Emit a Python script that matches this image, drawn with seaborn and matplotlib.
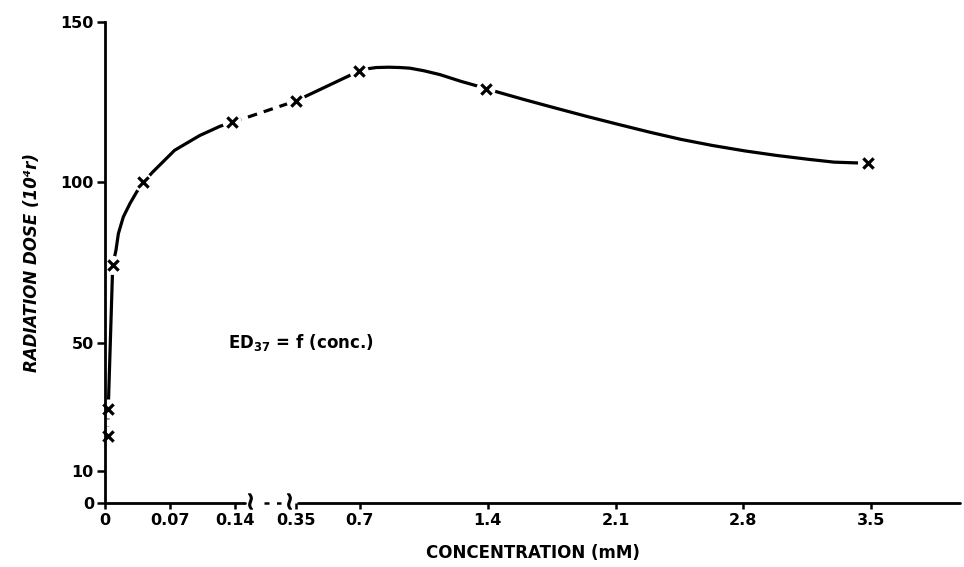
import numpy as np                 # For the broken-axis scale mapping
import pandas as pd                # For holding the traced curve pieces
import matplotlib
matplotlib.use("Agg")
import matplotlib.pyplot as plt    # For figure / axes handling
import seaborn as sns              # For the actual line and marker drawing

# Values (ED37 as a function of concentration)
conc_points = [0.003, 0.0035, 0.0083, 0.041, 0.137, 0.35, 0.695, 1.39, 3.48]
dose_points = [20.9, 29.3, 74.1, 100.0, 118.7, 125.4, 134.7, 129.0, 105.9]

# Hand-drawn curve pieces
low_dash_conc = [0.003, 0.0035]
low_dash_dose = [20.9, 29.3]

rise_conc = [0.0035, 0.0083]
rise_dose = [29.3, 74.1]

bend_conc = [0.0083, 0.0118, 0.0144, 0.0197, 0.0269, 0.0341, 0.0413,
             0.051, 0.075, 0.102, 0.124, 0.137]
bend_dose = [74.1, 78.8, 84.0, 89.2, 93.4, 97.0, 100.0,
             103.1, 110.0, 114.6, 117.5, 118.7]

gap_dash_conc = [0.137, 0.35]
gap_dash_dose = [118.7, 125.4]

mid_conc = [0.35, 0.695]
mid_dose = [125.4, 134.7]

tail_conc = [0.695, 0.727, 0.79, 0.859, 0.92, 0.974, 1.05, 1.138, 1.253,
             1.346, 1.39, 1.439, 1.60, 1.762, 1.94, 2.113, 2.29, 2.458,
             2.63, 2.808, 2.98, 3.153, 3.296, 3.449, 3.48]
tail_dose = [134.7, 135.3, 135.8, 135.9, 135.8, 135.6, 134.8, 133.6, 131.5,
             130.0, 129.0, 128.4, 125.8, 123.3, 120.6, 118.1, 115.6, 113.4,
             111.5, 109.8, 108.4, 107.2, 106.3, 106.0, 105.9]

# Axis ticks and labels
x_ticks = [0, 0.07, 0.14, 0.35, 0.7, 1.4, 2.1, 2.8, 3.5]
x_tick_labels = ["0", "0.07", "0.14", "0.35", "0.7", "1.4", "2.1", "2.8", "3.5"]
y_ticks = [0, 10, 50, 100, 150]
y_tick_labels = ["0", "10", "50", "100", "150"]

# Broken x scale: 0-0.14 is stretched, then a gap, then 0.35 onwards
SCALE_BREAKS = np.array([-1.0, 0.0, 0.14, 0.35, 10.0])
SCALE_UNITS = np.array([-928.6, 0.0, 130.0, 191.0, 191.0 + 9.65 * 182.6])


def forward(x):
    """Concentration -> drawing units along the broken axis"""
    return np.interp(x, SCALE_BREAKS, SCALE_UNITS)


def inverse(u):
    """Drawing units -> concentration"""
    return np.interp(u, SCALE_UNITS, SCALE_BREAKS)


def draw_piece(ax, conc, dose, dashed=False):
    """Draw one traced piece of the curve"""
    piece = pd.DataFrame({"conc": conc, "dose": dose})
    sns.lineplot(data=piece, x="conc", y="dose", ax=ax, sort=False,
                 estimator=None, color="black", linewidth=2.3,
                 linestyle=(0, (3.0, 2.2)) if dashed else "-", zorder=2)


def main():
    sns.set_style("ticks")
    plt.rcParams["font.family"] = ["DejaVu Sans"]
    # plain black text like the original print
    plt.rcParams["text.color"] = "black"
    plt.rcParams["axes.labelcolor"] = "black"
    plt.rcParams["xtick.color"] = "black"
    plt.rcParams["ytick.color"] = "black"
    plt.rcParams["axes.edgecolor"] = "black"

    fig = plt.figure(figsize=(9.64, 5.67), dpi=100)
    ax = fig.add_axes([105 / 964, 64 / 567, 855 / 964, 481 / 567])
    ax.set_xscale("function", functions=(forward, inverse))

    # curve pieces
    draw_piece(ax, low_dash_conc, low_dash_dose, dashed=True)
    draw_piece(ax, rise_conc, rise_dose)
    draw_piece(ax, bend_conc, bend_dose)
    draw_piece(ax, gap_dash_conc, gap_dash_dose, dashed=True)
    draw_piece(ax, mid_conc, mid_dose)
    draw_piece(ax, tail_conc, tail_dose)

    # white patch under each cross so the line stops short of it
    sns.scatterplot(x=conc_points, y=dose_points, ax=ax, marker="o", s=190,
                    color="white", edgecolor="none", zorder=2.2, clip_on=False)
    sns.scatterplot(x=conc_points, y=dose_points, ax=ax, marker="x", s=55,
                    color="black", linewidth=2.3, zorder=3, clip_on=False)

    ax.set_xlim(0, inverse(855.0))
    ax.set_ylim(0, 150)

    ax.set_xticks(x_ticks)
    ax.set_xticklabels(x_tick_labels)
    ax.set_yticks(y_ticks)
    ax.set_yticklabels(y_tick_labels)
    ax.minorticks_off()

    for lab in ax.get_xticklabels() + ax.get_yticklabels():
        lab.set_fontweight("bold")
        lab.set_fontsize(11.5)
    ax.tick_params(axis="x", direction="out", length=4, width=1.8, pad=3)
    ax.tick_params(axis="y", direction="out", length=6, width=1.8, pad=2)

    # spines: left kept, bottom redrawn with a break
    ax.spines["top"].set_visible(False)
    ax.spines["right"].set_visible(False)
    ax.spines["bottom"].set_visible(False)
    ax.spines["left"].set_linewidth(2.0)
    ax.axhline(0, xmin=0, xmax=0.164, color="black", linewidth=2.0, clip_on=False)
    ax.axhline(0, xmin=0.226, xmax=1.0, color="black", linewidth=2.0, clip_on=False)
    ax.plot([0.186, 0.206], [0, 0], transform=ax.transAxes, color="black",
            linewidth=1.8, linestyle=(0, (2.0, 3.0)), clip_on=False)
    # squiggle break marks drawn as markers on the axis line
    ax.plot([0.170, 0.215], [0.004, 0.004], transform=ax.transAxes,
            linestyle="none", marker=r"$\wr$", markersize=11,
            color="black", markeredgewidth=0.8, clip_on=False)

    ax.set_xlabel("CONCENTRATION (mM)", fontsize=12, fontweight="bold",
                  labelpad=12)
    ax.set_ylabel("RADIATION DOSE (10\u2074r)", fontsize=12,
                  fontweight="bold", fontstyle="italic", labelpad=14)

    ax.text(0.144, 50, r"ED$_{\mathbf{37}}$ = f (conc.)",
            transform=ax.get_yaxis_transform(), ha="left", va="center",
            fontsize=12, fontweight="bold")

    fig.savefig("out.png", dpi=100)


if __name__ == "__main__":
    main()
